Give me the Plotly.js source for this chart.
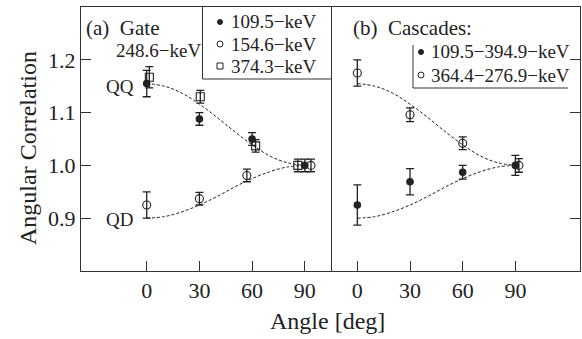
<!DOCTYPE html>
<html>
<head>
<meta charset="utf-8">
<script src="https://cdn.plot.ly/plotly-3.0.1.min.js"></script>
<style>html,body{margin:0;padding:0;background:#fff;}#chart{width:582px;height:339px;}</style>
</head>
<body>
<div id="chart"></div>
<script>
// ---------- data ----------
const angleTicks = [0, 30, 60, 90];
const tickLabelsY = ['0.9', '1.0', '1.1', '1.2'];
const tickValsY = [0.9, 1.0, 1.1, 1.2];

// (a) Gate 248.6-keV
const gate109X = [0, 30, 60, 90];
const gate109Y = [1.155, 1.088, 1.050, 1.000];
const gate109E = [0.025, 0.012, 0.012, 0.012];

const gate154X = [0, 30, 57, 93.5];
const gate154Y = [0.925, 0.937, 0.981, 1.000];
const gate154E = [0.025, 0.012, 0.012, 0.012];

const gate374X = [1.5, 30.5, 62, 86];
const gate374Y = [1.167, 1.130, 1.037, 1.000];
const gate374E = [0.020, 0.012, 0.012, 0.012];

// (b) Cascades
const casc109X = [0, 30, 60, 90];
const casc109Y = [0.925, 0.969, 0.987, 1.000];
const casc109E = [0.038, 0.025, 0.013, 0.019];

const casc364X = [0, 30, 60, 92];
const casc364Y = [1.175, 1.096, 1.042, 1.000];
const casc364E = [0.025, 0.013, 0.012, 0.013];

// dashed theory curves
const curveX = [0, 10, 20, 30, 40, 50, 60, 70, 80, 90];
const curveQQ = [1.155, 1.150, 1.137, 1.116, 1.091, 1.064, 1.039, 1.018, 1.005, 1.000];
const curveQD = [0.900, 0.903, 0.912, 0.925, 0.941, 0.959, 0.975, 0.988, 0.997, 1.000];

const legendA = ['109.5\u2212keV', '154.6\u2212keV', '374.3\u2212keV'];
const legendB = ['109.5\u2212394.9\u2212keV', '364.4\u2212276.9\u2212keV'];

// ---------- styling ----------
const INK = '#222';
const FONT = '"Liberation Serif", "Times New Roman", Times, serif';

// plot area in pixels
const L = 81, R = 580, T = 7, B = 271, W = 582, H = 339;
const px = v => (v - L) / (R - L);
const py = v => (B - v) / (B - T);

function errSeries(x, y, e, xa, ya, symbol, size) {
  return {
    x: x, y: y, xaxis: xa, yaxis: ya, type: 'scatter', mode: 'markers',
    error_y: {type: 'data', array: e, visible: true, color: INK, thickness: 1.3, width: 4},
    marker: {symbol: symbol, size: size, color: INK, line: {color: INK, width: 1.1}},
    showlegend: false, hoverinfo: 'skip', cliponaxis: false
  };
}
function curve(y, xa, ya) {
  return {
    x: curveX, y: y, xaxis: xa, yaxis: ya, type: 'scatter', mode: 'lines',
    line: {color: INK, width: 1, dash: '3px,2px', shape: 'spline'},
    showlegend: false, hoverinfo: 'skip'
  };
}

const data = [
  curve(curveQQ, 'x', 'y'), curve(curveQD, 'x', 'y'),
  curve(curveQQ, 'x2', 'y2'), curve(curveQD, 'x2', 'y2'),
  errSeries(gate154X, gate154Y, gate154E, 'x', 'y', 'circle-open', 8),
  errSeries(gate374X, gate374Y, gate374E, 'x', 'y', 'square-open', 8),
  errSeries(gate109X, gate109Y, gate109E, 'x', 'y', 'circle', 6.5),
  errSeries(casc364X, casc364Y, casc364E, 'x2', 'y2', 'circle-open', 8),
  errSeries(casc109X, casc109Y, casc109E, 'x2', 'y2', 'circle', 6.5)
];

const split = px(331);
const axisCommon = {
  showline: true, linecolor: '#333', linewidth: 1, mirror: true,
  ticks: 'inside', ticklen: 10, tickcolor: '#333', tickwidth: 1,
  showgrid: false, zeroline: false,
  tickfont: {family: FONT, size: 22, color: INK}
};

function ann(text, xpx, ypx, size, extra) {
  return Object.assign({
    text: text, xref: 'paper', yref: 'paper', x: px(xpx), y: py(ypx),
    xanchor: 'left', yanchor: 'middle', showarrow: false,
    font: {family: FONT, size: size, color: INK}, borderpad: 0
  }, extra || {});
}

const annotations = [
  ann('(a)\u00a0 Gate', 85, 28, 21),
  ann('248.6\u2212keV', 115, 51, 19),
  ann('QQ', 105, 87, 19),
  ann('QD', 105, 219, 19),
  ann('(b)\u00a0 Cascades:', 352, 28, 21),
  ann(legendA[0], 230, 22, 19),
  ann(legendA[1], 230, 44, 19),
  ann(legendA[2], 230, 66, 19),
  ann(legendB[0], 430, 52, 19),
  ann(legendB[1], 430, 75, 19),
  {text: 'Angle [deg]', xref: 'paper', yref: 'paper', x: px(327), y: py(321),
   xanchor: 'center', yanchor: 'middle', showarrow: false,
   font: {family: FONT, size: 24, color: INK}},
  {text: 'Angular Correlation', xref: 'paper', yref: 'paper', x: px(28), y: py(148),
   xanchor: 'center', yanchor: 'middle', showarrow: false, textangle: -90,
   font: {family: FONT, size: 24, color: INK}}
];

function sym(type, xpx, ypx, r, filled) {
  return {
    type: type, xref: 'paper', yref: 'paper', xsizemode: 'pixel', ysizemode: 'pixel',
    xanchor: px(xpx), yanchor: py(ypx), x0: -r, x1: r, y0: -r, y1: r,
    line: {color: INK, width: 1}, fillcolor: filled ? INK : 'rgba(0,0,0,0)'
  };
}
function seg(x0, y0, x1, y1) {
  return {type: 'line', xref: 'paper', yref: 'paper', x0: px(x0), y0: py(y0), x1: px(x1), y1: py(y1),
          line: {color: '#333', width: 1}};
}

const shapes = [
  seg(202.5, 7, 202.5, 79), seg(202.5, 79, 331, 79),
  seg(413, 45, 413, 88), seg(413, 88, 568, 88),
  sym('circle', 220, 22, 2.5, true),
  sym('circle', 220, 44, 3, false),
  sym('rect', 220, 66, 3, false),
  sym('circle', 421, 52, 2.5, true),
  sym('circle', 421, 75, 3, false)
];

const layout = {
  width: W, height: H,
  margin: {l: L, r: W - R, t: T, b: H - B, pad: 0},
  paper_bgcolor: '#fff', plot_bgcolor: '#fff',
  showlegend: false,
  font: {family: FONT, color: INK},
  xaxis: Object.assign({}, axisCommon, {domain: [0, split], range: [-37.4, 104.9], tickvals: angleTicks, anchor: 'y', ticklabelstandoff: 0}),
  xaxis2: Object.assign({}, axisCommon, {domain: [split, 1], range: [-15, 126.8], tickvals: angleTicks, anchor: 'y2', ticklabelstandoff: 0}),
  yaxis: Object.assign({}, axisCommon, {domain: [0, 1], range: [0.8, 1.3], tickvals: tickValsY, ticktext: tickLabelsY, anchor: 'x', side: 'left'}),
  yaxis2: Object.assign({}, axisCommon, {domain: [0, 1], range: [0.8, 1.3], tickvals: tickValsY, anchor: 'x2', side: 'right', showticklabels: false, mirror: false}),
  annotations: annotations,
  shapes: shapes
};

Plotly.newPlot('chart', data, layout, {staticPlot: true, displayModeBar: false});
</script>
</body>
</html>
